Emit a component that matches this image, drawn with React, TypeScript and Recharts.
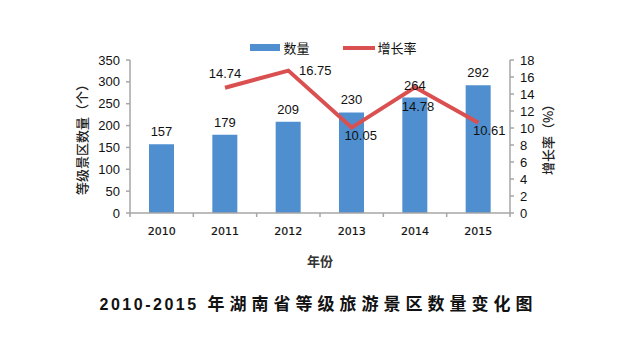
import React from 'react';
import { ComposedChart, Bar, Line, XAxis, YAxis, LabelList, Legend } from 'recharts';

const years = ['2010', '2011', '2012', '2013', '2014', '2015'];
const counts = [157, 179, 209, 230, 264, 292];
const growth: (number | null)[] = [null, 14.74, 16.75, 10.05, 14.78, 10.61];
const leftTicks = [0, 50, 100, 150, 200, 250, 300, 350];
const rightTicks = [0, 2, 4, 6, 8, 10, 12, 14, 16, 18];

const data = years.map((y, i) => ({ year: y, count: counts[i], growth: growth[i] }));

const BLUE = '#4F8FD0';
const RED = '#DA5050';
const AXIS = '#A6A6A6';
const NUM_FONT = '"Liberation Sans", Arial, sans-serif';
const CJK_FONT = '"Noto Sans CJK SC", sans-serif';

// label offsets for growth-rate labels (dx, dy) relative to point
const growthLabelOffsets: [number, number][] = [
  [0, 0],
  [0, -14],
  [27, 0],
  [9, 8],
  [3, 19],
  [11, 8],
];

const HALF_BAND = 380 / 12;

const XTick = (props: any) => {
  const { x, y, payload, index } = props;
  return (
    <g>
      <line x1={x - HALF_BAND} y1={y - 8} x2={x - HALF_BAND} y2={y - 4} stroke={AXIS} strokeWidth={1.5} />
      {index === years.length - 1 && (
        <line x1={x + HALF_BAND} y1={y - 8} x2={x + HALF_BAND} y2={y - 4} stroke={AXIS} strokeWidth={1.5} />
      )}
      <text x={x} y={y + 10} textAnchor="middle" dominantBaseline="central" fontFamily='"DejaVu Sans", sans-serif' fontSize={11} fill="#111" stroke="#111" strokeWidth={0.2}>
        {payload.value}
      </text>
    </g>
  );
};

const GrowthLabel = (props: any) => {
  const { x, y, value, index } = props;
  if (value == null) return null;
  const [dx, dy] = growthLabelOffsets[index] || [0, 0];
  return (
    <text x={x + dx} y={y + dy} textAnchor="middle" dominantBaseline="central" fontFamily={NUM_FONT} fontSize={13} fill="#111">
      {value.toFixed(2)}
    </text>
  );
};

const LegendContent = () => (
  <div style={{ display: 'flex', justifyContent: 'center', alignItems: 'center', fontFamily: CJK_FONT, fontSize: 13, color: '#111', paddingLeft: 30 }}>
    <div style={{ width: 30, height: 7, background: BLUE, marginRight: 3 }} />
    <span style={{ marginRight: 33 }}>数量</span>
    <div style={{ width: 32, height: 4, background: RED, marginRight: 3 }} />
    <span>增长率</span>
  </div>
);

export default function App() {
  return (
    <div style={{ position: 'fixed', left: 0, top: 0, width: 637, height: 357, background: '#fff' }}>
      <ComposedChart
        width={637}
        height={357}
        data={data}
        margin={{ top: 60, right: 67, bottom: 114, left: 70 }}
        barCategoryGap={0}
      >
        <Legend
          layout="horizontal"
          verticalAlign="middle"
          align="center"
          content={<LegendContent />}
          wrapperStyle={{ top: 38, left: 0, width: 637 }}
        />
        <XAxis
          dataKey="year"
          xAxisId="x"
          height={30}
          axisLine={{ stroke: AXIS, strokeWidth: 1.5 }}
          tickLine={false}
          tick={<XTick />}
          interval={0}
          label={{ value: '年份', position: 'insideBottom', offset: -23, style: { fontFamily: CJK_FONT, fontSize: 13, fill: '#333', fontWeight: 600 } }}
        />
        <YAxis
          yAxisId="left"
          width={60}
          domain={[0, 350]}
          ticks={leftTicks}
          interval={0}
          axisLine={{ stroke: AXIS, strokeWidth: 1.5 }}
          tickLine={{ stroke: AXIS, strokeWidth: 1.5 }}
          tickSize={4}
          tickMargin={6}
          tick={{ fontFamily: NUM_FONT, fontSize: 13, fill: '#111' }}
          label={{ value: '等级景区数量（个）', angle: -90, position: 'insideLeft', offset: 12, style: { fontFamily: CJK_FONT, fontSize: 13, fill: '#222', fontWeight: 500, textAnchor: 'middle' } }}
        />
        <YAxis
          yAxisId="right"
          orientation="right"
          width={60}
          domain={[0, 18]}
          ticks={rightTicks}
          interval={0}
          axisLine={{ stroke: AXIS, strokeWidth: 1.5 }}
          tickLine={{ stroke: AXIS, strokeWidth: 1.5 }}
          tickSize={4}
          tickMargin={6}
          tick={{ fontFamily: NUM_FONT, fontSize: 13, fill: '#111' }}
          label={{ value: '增长率（%）', angle: -90, position: 'insideRight', offset: 22, style: { fontFamily: CJK_FONT, fontSize: 13, fill: '#222', fontWeight: 500, textAnchor: 'middle' } }}
        />
        <Bar dataKey="count" xAxisId="x" yAxisId="left" fill={BLUE} barSize={25} isAnimationActive={false}>
          <LabelList dataKey="count" position="top" offset={8} style={{ fontFamily: NUM_FONT, fontSize: 13, fill: '#111' }} />
        </Bar>
        <Line
          dataKey="growth"
          xAxisId="x"
          yAxisId="right"
          stroke={RED}
          strokeWidth={4}
          dot={false}
          activeDot={false}
          connectNulls={false}
          isAnimationActive={false}
        >
          <LabelList dataKey="growth" content={<GrowthLabel />} />
        </Line>
      </ComposedChart>
      <div
        style={{
          position: 'absolute',
          left: 0,
          top: 291,
          width: 637,
          textAlign: 'center',
          fontFamily: CJK_FONT,
          fontWeight: 700,
          fontSize: 17,
          color: '#111',
          lineHeight: '24px',
        }}
      >
        <span style={{ fontFamily: NUM_FONT, letterSpacing: 2.5, fontSize: 16 }}>2010-2015</span>
        <span style={{ letterSpacing: 5 }}> 年湖南省等级旅游景区数量变化图</span>
      </div>
    </div>
  );
}
